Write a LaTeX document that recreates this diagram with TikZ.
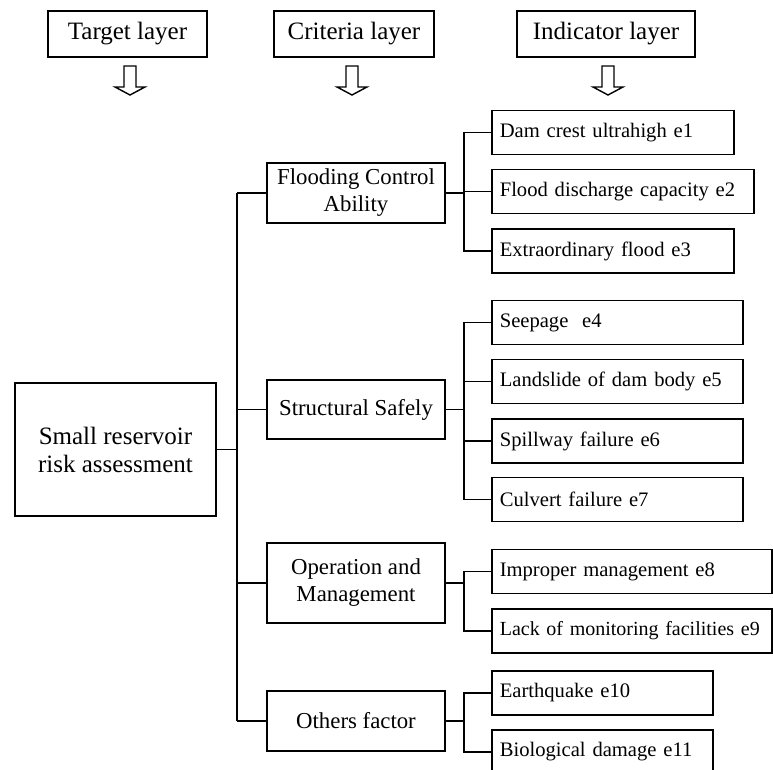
\documentclass[tikz,border=0pt]{standalone}
\usepackage{fontspec}
\setmainfont{Liberation Serif}
\usetikzlibrary{calc}

\tikzset{
  layerbox/.style={draw, line width=0.8pt, minimum height=23pt, inner sep=0pt, font=\fontsize{12.5}{14}\selectfont},
  critbox/.style={draw, line width=0.8pt, minimum width=89pt, align=center, inner sep=0pt, font=\fontsize{11.4}{13.5}\selectfont},
  indbox/.style={draw, line width=0.8pt, anchor=west, minimum height=22pt, text width=#1, align=left, inner xsep=4pt, inner ysep=0pt, font=\fontsize{10.3}{12.5}\selectfont},
  link/.style={line width=0.8pt},
  downarrow/.pic={\draw[line width=0.7pt] (-6,0) -- (-6,21) -- (-15,21) -- (0,29) -- (15,21) -- (6,21) -- (6,0) -- cycle;}
}

\begin{document}
\begin{tikzpicture}[x=0.5pt, y=-0.5pt]
            \useasboundingbox (0,0) rectangle (773,770);
            \clip (0,0) rectangle (773,770);

            % layer headings
            \node[layerbox, minimum width=79.5pt] (tl) at (127.5,34) {Target layer};
            \node[layerbox, minimum width=80pt]   (cl) at (354,34)   {Criteria layer};
            \node[layerbox, minimum width=89pt]   (il) at (606,34)   {Indicator layer};
            \pic at (130,66) {downarrow};
            \pic at (352,66) {downarrow};
            \pic at (608,66) {downarrow};

            % target and criteria
            \node[draw, line width=0.8pt, minimum width=100.5pt, minimum height=66.5pt, align=center, inner sep=0pt,
                  font=\fontsize{12.5}{14}\selectfont] (target) at (115.5,449.5) {Small reservoir\\risk assessment};
            \node[critbox, minimum height=30pt]   (c1) at (356,193)   {Flooding Control\\Ability};
            \node[critbox, minimum height=29.5pt] (c2) at (356,409.5) {Structural Safely};
            \node[critbox, minimum height=40pt]   (c3) at (356,583)   {Operation and\\Management};
            \node[critbox, minimum height=30pt]   (c4) at (356,721)   {Others factor};

            % indicators
            \node[indbox=113pt]   (e1)  at (491,132.5) {Dam crest ultrahigh e1};
            \node[indbox=123pt]   (e2)  at (491,191.5) {Flood discharge capacity e2};
            \node[indbox=113pt]   (e3)  at (491,251)   {Extraordinary flood e3};
            \node[indbox=117.5pt] (e4)  at (491,322.5) {Seepage\ \ e4};
            \node[indbox=117.5pt] (e5)  at (491,381.5) {Landslide of dam body e5};
            \node[indbox=117.5pt] (e6)  at (491,441)   {Spillway failure e6};
            \node[indbox=117.5pt] (e7)  at (491,499.5) {Culvert failure e7};
            \node[indbox=132pt]   (e8)  at (491,571.5) {Improper management e8};
            \node[indbox=132pt, font=\fontsize{10}{12}\selectfont] (e9) at (491,631) {\mbox{Lack of monitoring facilities e9}};
            \node[indbox=102.5pt] (e10) at (491,693)   {Earthquake e10};
            \node[indbox=102.5pt] (e11) at (491,752)   {Biological damage e11};

            \coordinate (mbus) at (237,0);
            \coordinate (bus)  at (464,0);

            % target to criteria
            \draw[link] (target.east) -- (target.east -| mbus);
            \draw[link] (c1.west -| mbus) -- (c4.west -| mbus);
            \foreach \c in {c1,c2,c3,c4} {
                \draw[link] (\c.west -| mbus) -- (\c.west);
                \draw[link] (\c.east) -- (\c.east -| bus);
            }

            % criteria to indicators
            \draw[link] (e1.west) -| (e3.west -| bus) -- (e3.west);
            \draw[link] (e2.west) -- (e2.west -| bus);
            \draw[link] (e4.west) -| (e7.west -| bus) -- (e7.west);
            \draw[link] (e5.west) -- (e5.west -| bus);
            \draw[link] (e6.west) -- (e6.west -| bus);
            \draw[link] (e8.west) -| (e9.west -| bus) -- (e9.west);
            \draw[link] (e10.west) -| (e11.west -| bus) -- (e11.west);
        \end{tikzpicture}
\end{document}
